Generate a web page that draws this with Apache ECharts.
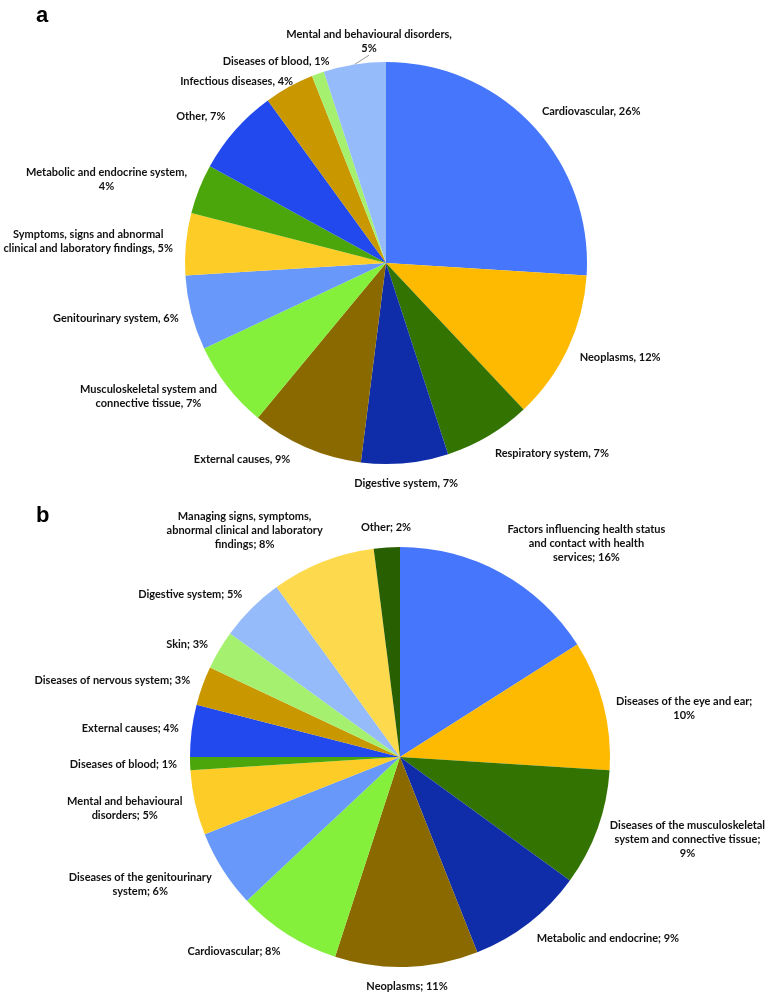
<!DOCTYPE html>
<html>
<head>
<meta charset="utf-8">
<script src="https://cdn.jsdelivr.net/npm/echarts@6/dist/echarts.min.js"></script>
<style>
  html, body { margin: 0; padding: 0; background: #ffffff; }
  #chart { width: 771px; height: 992px; }
</style>
</head>
<body>
<div id="chart"></div>
<script>
// ---------- Data ----------
const namesA = [
  'Cardiovascular', 'Neoplasms', 'Respiratory system', 'Digestive system',
  'External causes', 'Musculoskeletal system and\nconnective tissue', 'Genitourinary system',
  'Symptoms, signs and abnormal\nclinical and laboratory findings', 'Metabolic and endocrine system',
  'Other', 'Infectious diseases', 'Diseases of blood', 'Mental and behavioural disorders'
];
const valuesA = [26, 12, 7, 7, 9, 7, 6, 5, 4, 7, 4, 1, 5];
const valueOnNewLineA = [8, 12];

const namesB = [
  'Factors influencing health status\nand contact with health\nservices', 'Diseases of the eye and ear',
  'Diseases of the musculoskeletal\nsystem and connective tissue', 'Metabolic and endocrine',
  'Neoplasms', 'Cardiovascular', 'Diseases of the genitourinary\nsystem',
  'Mental and behavioural\ndisorders', 'Diseases of blood', 'External causes',
  'Diseases of nervous system', 'Skin', 'Digestive system',
  'Managing signs, symptoms,\nabnormal clinical and laboratory\nfindings', 'Other'
];
const valuesB = [16, 10, 9, 9, 11, 8, 6, 5, 1, 4, 3, 3, 5, 8, 2];
const valueOnNewLineB = [1, 2];

// ---------- Styles ----------
const palette = [
  '#4576FB', '#FDBA00', '#337302', '#0F2DA8', '#8A6A00', '#84F03C', '#6899FA',
  '#FDCC26', '#4AA60A', '#2149EE', '#C99700', '#A6F06F', '#95BBFB', '#FDD94E', '#285F00'
];
const layoutA = { cx: 386, cy: 263, r: 201, sep: ', ' };
const layoutB = { cx: 400, cy: 757, r: 210, sep: '; ' };
const GAP = 13;
const LABEL_FONT = { fontFamily: 'Lato, "Open Sans", sans-serif', fontWeight: 'bold', fontSize: 11, color: '#111111', lineHeight: 14 };

// label placement tweaks (Excel nudged these labels)
const extraA = {
  4: { dx: -1.22, dy: 0.05 },
  5: { dy: 0.18 },
  10: { dx: -0.82, dy: 0.86 },
  11: { dx: -0.7, dy: 0 },
  12: { gap: 8, dx: 0.19, dy: -1.1, line: true }
};
const extraB = {
  1: { dy: 0.5 },
  10: { dy: -0.1 },
  11: { dy: 0.2 }
};

function midAngles(values) {
  const total = values.reduce((a, b) => a + b, 0);
  let acc = 0;
  return values.map(v => { const m = (acc + v / 2) / total * Math.PI * 2; acc += v; return m; });
}
function clamp(v) { return Math.max(-1, Math.min(1, v)); }

function buildSeries(names, values, newLineIdx, lay, extra) {
  const mids = midAngles(values);
  return {
    type: 'pie',
    center: [lay.cx, lay.cy],
    radius: [0, lay.r],
    startAngle: 90,
    clockwise: true,
    avoidLabelOverlap: false,
    animation: false,
    itemStyle: { borderWidth: 0 },
    label: Object.assign({
      show: true,
      position: 'outside',
      align: 'center',
      formatter: p => p.name + (newLineIdx.includes(p.dataIndex) ? lay.sep.trim() + '\n' : lay.sep) + p.value + '%'
    }, LABEL_FONT),
    labelLine: { show: false },
    emphasis: { disabled: true },
    data: names.map((n, i) => {
      const item = { name: n, value: values[i], itemStyle: { color: palette[i] } };
      if (extra && extra[i] && extra[i].line) {
        item.labelLine = { show: true, length: 4, length2: 0, lineStyle: { color: '#9a9a9a', width: 1 } };
      }
      return item;
    }),
    labelLayout: function (p) {
      const i = p.dataIndex;
      const th = mids[i];
      const s = Math.sin(th), c = -Math.cos(th);
      const ex = (extra && extra[i]) || {};
      const R = lay.r + (ex.gap != null ? ex.gap : GAP);
      const ax = lay.cx + s * R, ay = lay.cy + c * R;
      const w = p.labelRect.width, h = p.labelRect.height;
      const dx = ex.dx != null ? ex.dx : Math.sign(s) * clamp(Math.max(0, Math.abs(s) - 0.1) * 3.5);
      const dy = ex.dy != null ? ex.dy : clamp(c);
      return { x: ax + dx * w / 2, y: ay + dy * h / 2, align: 'center', verticalAlign: 'middle' };
    }
  };
}

const TITLE_FONT = { fontFamily: '"Liberation Sans", Arial, sans-serif', fontWeight: 'bold', fontSize: 22, color: '#000' };
const chart = echarts.init(document.getElementById('chart'), null, { renderer: 'canvas' });
chart.setOption({
  backgroundColor: '#ffffff',
  animation: false,
  title: [
    { text: 'a', left: 31, top: 0, textStyle: TITLE_FONT },
    { text: 'b', left: 31, top: 500, textStyle: TITLE_FONT }
  ],
  series: [
    buildSeries(namesA, valuesA, valueOnNewLineA, layoutA, extraA),
    buildSeries(namesB, valuesB, valueOnNewLineB, layoutB, extraB)
  ]
});
</script>
</body>
</html>
